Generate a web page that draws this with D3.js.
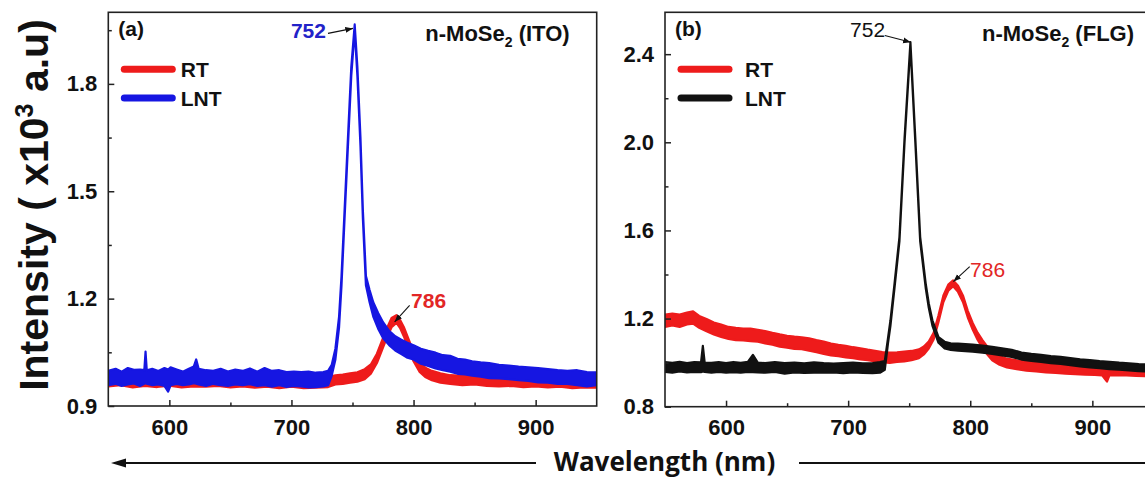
<!DOCTYPE html>
<html>
<head>
<meta charset="utf-8">
<script src="https://cdn.jsdelivr.net/npm/d3@7"></script>
<style>
  body { margin: 0; background: #fff; }
  svg { display: block; font-family: Arial, "Liberation Sans", sans-serif; }
</style>
</head>
<body>
<div id="chart"></div>
<script>
// ---- data: [wavelength nm, band middle, band half-width] (x10^3 a.u) ----
const xTicks = [600, 700, 800, 900];
const xMinor = [650, 750, 850];
const yTicksITO = [0.9, 1.2, 1.5, 1.8];
const yMinorITO = [1.05, 1.35, 1.65, 1.95];
const yTicksFLG = [0.8, 1.2, 1.6, 2.0, 2.4];
const yMinorFLG = [1.0, 1.4, 1.8, 2.2];
const legendNames = ["RT", "LNT"];

const rtITO = [
  [550, 0.970, 0.015], [560, 0.970, 0.012], [570, 0.968, 0.016], [580, 0.968, 0.012],
  [590, 0.968, 0.015], [600, 0.969, 0.012], [610, 0.968, 0.016], [620, 0.968, 0.013],
  [630, 0.968, 0.014], [640, 0.968, 0.012], [650, 0.968, 0.016], [660, 0.967, 0.012],
  [670, 0.967, 0.016], [680, 0.966, 0.012], [690, 0.965, 0.015], [700, 0.966, 0.012],
  [710, 0.965, 0.015], [720, 0.964, 0.013], [730, 0.967, 0.014], [736, 0.973, 0.013],
  [742, 0.975, 0.013], [748, 0.978, 0.013], [754, 0.981, 0.013], [760, 0.989, 0.014],
  [765, 1.003, 0.013], [770, 1.033, 0.013], [774, 1.068, 0.013], [778, 1.103, 0.013],
  [782, 1.133, 0.013], [786, 1.143, 0.011], [789, 1.129, 0.011], [792, 1.108, 0.013],
  [796, 1.073, 0.013], [800, 1.038, 0.013], [805, 1.008, 0.013], [810, 0.993, 0.013],
  [815, 0.985, 0.013], [822, 0.978, 0.013], [830, 0.974, 0.012], [840, 0.971, 0.013],
  [850, 0.971, 0.011], [860, 0.968, 0.012], [870, 0.967, 0.012], [880, 0.968, 0.012],
  [890, 0.965, 0.012], [900, 0.967, 0.012], [910, 0.964, 0.012], [920, 0.966, 0.012],
  [930, 0.963, 0.013], [940, 0.964, 0.012], [950, 0.963, 0.012]
];

const lntITO = [
  [550, 0.978, 0.020], [556, 0.983, 0.021], [561, 0.976, 0.020], [566, 0.983, 0.023],
  [571, 0.982, 0.019], [576, 0.979, 0.023], [579.5, 0.981, 0.019], [580.5, 1.008, 0.044],
  [581.5, 0.981, 0.019], [586, 0.981, 0.023], [591, 0.979, 0.019], [596, 0.981, 0.025],
  [599, 0.971, 0.031], [601, 0.983, 0.025], [606, 0.982, 0.020], [611, 0.977, 0.019],
  [616, 0.982, 0.022], [620, 0.987, 0.023], [622, 0.996, 0.034], [624, 0.982, 0.022],
  [630, 0.978, 0.022], [636, 0.980, 0.018], [642, 0.981, 0.023], [648, 0.976, 0.020],
  [654, 0.981, 0.021], [660, 0.978, 0.020], [666, 0.983, 0.022], [672, 0.976, 0.020],
  [678, 0.982, 0.024], [684, 0.976, 0.022], [690, 0.979, 0.021], [696, 0.974, 0.021],
  [702, 0.976, 0.020], [708, 0.975, 0.020], [714, 0.974, 0.022], [720, 0.973, 0.020],
  [726, 0.975, 0.020], [730, 0.978, 0.020], [733, 1.000, 0.015], [736, 1.045, 0.015],
  [739, 1.135, 0.015], [741, 1.250, 0.013], [743.5, 1.435, 0.012], [746.3, 1.640, 0.012],
  [749, 1.835, 0.012], [751.8, 1.958, 0.008], [754, 1.835, 0.012], [756.5, 1.640, 0.012],
  [758.5, 1.435, 0.012], [761, 1.250, 0.013], [764, 1.207, 0.017], [767, 1.170, 0.020],
  [771, 1.138, 0.022], [775, 1.112, 0.022], [780, 1.090, 0.020], [785, 1.075, 0.020],
  [790, 1.065, 0.020], [795, 1.056, 0.021], [800, 1.050, 0.020], [806, 1.039, 0.021],
  [812, 1.033, 0.021], [818, 1.027, 0.022], [824, 1.021, 0.021], [830, 1.018, 0.022],
  [836, 1.011, 0.021], [842, 1.009, 0.021], [848, 1.005, 0.020], [855, 1.002, 0.020],
  [862, 0.999, 0.021], [870, 0.996, 0.019], [878, 0.994, 0.019], [886, 0.991, 0.019],
  [894, 0.989, 0.019], [902, 0.986, 0.020], [910, 0.984, 0.019], [918, 0.981, 0.019],
  [926, 0.980, 0.018], [934, 0.979, 0.021], [942, 0.975, 0.020], [950, 0.976, 0.018]
];

const rtFLG = [
  [550, 1.190, 0.028], [556, 1.196, 0.027], [562, 1.190, 0.028], [568, 1.200, 0.027],
  [573, 1.205, 0.028], [578, 1.185, 0.027], [584, 1.170, 0.028], [590, 1.155, 0.027],
  [596, 1.145, 0.028], [602, 1.135, 0.027], [608, 1.130, 0.028], [614, 1.128, 0.027],
  [620, 1.126, 0.028], [626, 1.122, 0.027], [632, 1.115, 0.028], [638, 1.108, 0.027],
  [644, 1.100, 0.028], [650, 1.095, 0.027], [656, 1.090, 0.028], [662, 1.088, 0.027],
  [668, 1.082, 0.028], [674, 1.075, 0.027], [680, 1.068, 0.028], [686, 1.060, 0.027],
  [692, 1.055, 0.026], [698, 1.050, 0.026], [704, 1.045, 0.025], [710, 1.040, 0.025],
  [716, 1.035, 0.024], [722, 1.030, 0.024], [728, 1.025, 0.023], [734, 1.022, 0.023],
  [740, 1.025, 0.022], [746, 1.028, 0.022], [752, 1.032, 0.021], [758, 1.040, 0.020],
  [762, 1.055, 0.018], [766, 1.080, 0.016], [770, 1.120, 0.015], [774, 1.200, 0.015],
  [778, 1.290, 0.015], [782, 1.340, 0.014], [786, 1.360, 0.013], [790, 1.335, 0.014],
  [794, 1.290, 0.015], [798, 1.220, 0.015], [802, 1.165, 0.015], [806, 1.120, 0.016],
  [810, 1.085, 0.017], [814, 1.055, 0.018], [818, 1.030, 0.019], [824, 1.010, 0.020],
  [830, 0.998, 0.020], [838, 0.990, 0.020], [846, 0.984, 0.020], [854, 0.980, 0.020],
  [862, 0.976, 0.020], [870, 0.973, 0.020], [878, 0.970, 0.020], [886, 0.968, 0.020],
  [894, 0.966, 0.020], [902, 0.964, 0.020], [908, 0.962, 0.020], [912, 0.948, 0.034],
  [914, 0.962, 0.020], [920, 0.963, 0.020], [928, 0.962, 0.020], [936, 0.960, 0.020],
  [944, 0.958, 0.020], [950, 0.957, 0.020]
];

const lntFLG = [
  [550, 0.980, 0.022], [556, 0.977, 0.022], [562, 0.982, 0.022], [568, 0.977, 0.021],
  [574, 0.980, 0.022], [579.5, 0.979, 0.022], [581, 1.018, 0.058], [582.5, 0.979, 0.021],
  [588, 0.977, 0.022], [594, 0.980, 0.022], [600, 0.976, 0.022], [606, 0.980, 0.023],
  [612, 0.977, 0.022], [618, 0.981, 0.023], [622, 0.996, 0.039], [626, 0.978, 0.022],
  [632, 0.976, 0.022], [640, 0.980, 0.022], [648, 0.974, 0.024], [656, 0.978, 0.022],
  [664, 0.975, 0.022], [672, 0.978, 0.023], [680, 0.976, 0.022], [688, 0.976, 0.020],
  [696, 0.975, 0.023], [704, 0.978, 0.022], [712, 0.975, 0.022], [720, 0.975, 0.023],
  [726, 0.978, 0.024], [730, 0.987, 0.020], [732.6, 1.098, 0.012], [734.6, 1.178, 0.012],
  [738, 1.350, 0.010], [742, 1.560, 0.010], [746.2, 2.010, 0.010], [751, 2.447, 0.008],
  [755, 2.010, 0.010], [759, 1.560, 0.010], [763.5, 1.350, 0.010], [766, 1.260, 0.010],
  [769, 1.180, 0.012], [774, 1.103, 0.013], [779, 1.080, 0.015], [784, 1.073, 0.015],
  [790, 1.070, 0.016], [796, 1.068, 0.016], [802, 1.066, 0.016], [810, 1.061, 0.016],
  [818, 1.056, 0.016], [826, 1.049, 0.016], [834, 1.042, 0.016], [842, 1.030, 0.016],
  [850, 1.024, 0.016], [858, 1.019, 0.016], [866, 1.014, 0.016], [874, 1.010, 0.016],
  [882, 1.005, 0.016], [890, 0.999, 0.016], [898, 0.995, 0.017], [906, 0.991, 0.016],
  [914, 0.987, 0.017], [922, 0.984, 0.016], [930, 0.981, 0.016], [938, 0.977, 0.016],
  [946, 0.975, 0.016], [950, 0.974, 0.016]
];

// peak annotations: [wavelength, value, label]
const peaksITO = [[750.4, 1.955, "752"], [784.5, 1.135, "786"]];
const peaksFLG = [[751.3, 2.454, "752"], [786.2, 1.368, "786"]];

// ---- layout ----
const width = 1145, height = 477;
const red = "#ee1b1b", blue = "#1616e2", black = "#111";
const fontMain = 'Arial, "Liberation Sans", sans-serif';

const svg = d3.select("#chart").append("svg")
  .attr("width", width)
  .attr("height", height)
  .attr("viewBox", [0, 0, width, height]);

const defs = svg.append("defs");
defs.append("marker")
  .attr("id", "head")
  .attr("viewBox", "0 0 10 10")
  .attr("refX", 10).attr("refY", 5)
  .attr("markerWidth", 7).attr("markerHeight", 7)
  .attr("orient", "auto")
  .append("path")
  .attr("d", "M0,1.2L10,5L0,8.8Z")
  .attr("fill", black);

const panels = [
  {
    key: "ITO", left: 108.3, right: 596.7, top: 12.3, bottom: 406,
    yDomain: [0.9, 2.0], yTicks: yTicksITO, yMinor: yMinorITO,
    rt: rtITO, lnt: lntITO, lntColor: blue, tag: "(a)", legendTextX: 72.5,
    peaks: peaksITO,
    notes: [
      { color: "#2222c8", weight: "bold", tail: [-25, 5], label: [-27, 10], anchor: "end" },
      { color: "#e22626", weight: "bold", tail: [15, -16.5], label: [16.5, -13.4], anchor: "start" }
    ]
  },
  {
    key: "FLG", left: 665, right: 1153.4, top: 12.3, bottom: 406.7,
    yDomain: [0.8, 2.59], yTicks: yTicksFLG, yMinor: yMinorFLG,
    rt: rtFLG, lnt: lntFLG, lntColor: black, tag: "(b)", legendTextX: 80,
    peaks: peaksFLG,
    notes: [
      { color: black, weight: "normal", tail: [-26, -6.7], label: [-25.7, -5.7], anchor: "end" },
      { color: "#e22626", weight: "normal", tail: [16.3, -15], label: [16.7, -5], anchor: "start" }
    ]
  }
];

const drawPanel = (p) => {
  const x = d3.scaleLinear().domain([550, 950]).range([p.left, p.right]);
  const y = d3.scaleLinear().domain(p.yDomain).range([p.bottom, p.top]);
  const g = svg.append("g").attr("class", `panel panel-${p.key}`);

  defs.append("clipPath").attr("id", `clip-${p.key}`)
    .append("rect")
    .attr("x", p.left).attr("y", p.top)
    .attr("width", p.right - p.left).attr("height", p.bottom - p.top);

  // noisy spectra drawn as a band between the lower and upper envelope
  const band = d3.area()
    .x(d => x(d[0]))
    .y0(d => y(d[1] - d[2]))
    .y1(d => y(d[1] + d[2]));

  const plot = g.append("g").attr("clip-path", `url(#clip-${p.key})`);
  [[p.rt, red], [p.lnt, p.lntColor]].forEach(([data, color]) => {
    plot.append("path")
      .datum(data)
      .attr("d", band)
      .attr("fill", color)
      .attr("stroke", color)
      .attr("stroke-width", 2.2)
      .attr("stroke-linejoin", "round");
  });

  // axes, ticks pointing inward
  const xAxis = d3.axisBottom(x).tickValues(xTicks).tickSizeInner(-6).tickSizeOuter(0).tickPadding(13);
  const xMinorAxis = d3.axisBottom(x).tickValues(xMinor).tickSizeInner(-3.5).tickSizeOuter(0).tickFormat("");
  const yAxis = d3.axisLeft(y).tickValues(p.yTicks).tickSizeInner(-6).tickSizeOuter(0).tickPadding(11)
    .tickFormat(d3.format(".1f"));
  const yMinorAxis = d3.axisLeft(y).tickValues(p.yMinor).tickSizeInner(-3.5).tickSizeOuter(0).tickFormat("");

  [xAxis, xMinorAxis].forEach(ax => {
    g.append("g").attr("transform", `translate(0,${p.bottom})`).call(ax);
  });
  [yAxis, yMinorAxis].forEach(ax => {
    g.append("g").attr("transform", `translate(${p.left},0)`).call(ax);
  });
  g.selectAll(".domain").remove();
  g.selectAll(".tick line").attr("stroke", "#222").attr("stroke-width", 1.5);
  g.selectAll(".tick text")
    .attr("fill", "#111")
    .style("font-family", fontMain)
    .style("font-size", "22px")
    .style("font-weight", "bold");

  g.append("rect")
    .attr("x", p.left).attr("y", p.top)
    .attr("width", p.right - p.left).attr("height", p.bottom - p.top)
    .attr("fill", "none")
    .attr("stroke", "#222")
    .attr("stroke-width", 1.6);

  // tag and sample label
  g.append("text")
    .attr("x", p.left + 10).attr("y", 36)
    .style("font-size", "21px").style("font-weight", "bold")
    .attr("fill", "#111")
    .text(p.tag);

  const sample = g.append("text")
    .attr("x", p.left + 317).attr("y", 40.5)
    .style("font-size", "22px").style("font-weight", "bold")
    .attr("fill", "#111");
  sample.append("tspan").text("n-MoSe");
  sample.append("tspan").attr("dy", 6).style("font-size", "14px").text("2");
  sample.append("tspan").attr("dy", -6).text(` (${p.key})`);

  // legend
  const legendY = [69.3, 98];
  [red, p.lntColor].forEach((color, i) => {
    g.append("line")
      .attr("x1", p.left + 16).attr("x2", p.left + 64)
      .attr("y1", legendY[i]).attr("y2", legendY[i])
      .attr("stroke", color)
      .attr("stroke-width", 7)
      .attr("stroke-linecap", "round");
    g.append("text")
      .attr("x", p.left + p.legendTextX).attr("y", legendY[i] + 7.6)
      .style("font-size", "21px").style("font-weight", "bold")
      .attr("fill", "#111")
      .text(legendNames[i]);
  });

  // peak annotations
  p.peaks.forEach(([wl, val, label], i) => {
    const n = p.notes[i];
    const tx = x(wl), ty = y(val);
    g.append("line")
      .attr("x1", tx + n.tail[0]).attr("y1", ty + n.tail[1])
      .attr("x2", tx).attr("y2", ty)
      .attr("stroke", black)
      .attr("stroke-width", 1.1)
      .attr("marker-end", "url(#head)");
    g.append("text")
      .attr("x", tx + n.label[0]).attr("y", ty + n.label[1])
      .attr("text-anchor", n.anchor)
      .attr("fill", n.color)
      .style("font-size", "21px")
      .style("font-weight", n.weight)
      .text(label);
  });
};

panels.forEach(drawPanel);

// shared y title
const yTitle = svg.append("text")
  .attr("transform", "translate(48,205) rotate(-90)")
  .attr("text-anchor", "middle")
  .attr("fill", "#111")
  .style("font-size", "41px")
  .style("font-weight", "bold");
yTitle.append("tspan").text("Intensity ( x10");
yTitle.append("tspan").attr("dy", -15).style("font-size", "25px").text("3");
yTitle.append("tspan").attr("dy", 15).text(" a.u)");

// shared x title with arrow
const arrowY = 463;
svg.append("line")
  .attr("x1", 536).attr("x2", 122)
  .attr("y1", arrowY).attr("y2", arrowY)
  .attr("stroke", "#111").attr("stroke-width", 2);
svg.append("path")
  .attr("d", d3.line()([[111, arrowY], [126, arrowY - 4.5], [126, arrowY + 4.5]]) + "Z")
  .attr("fill", "#111");
svg.append("line")
  .attr("x1", 799).attr("x2", width)
  .attr("y1", arrowY).attr("y2", arrowY)
  .attr("stroke", "#111").attr("stroke-width", 2);
svg.append("text")
  .attr("x", 664.5).attr("y", 470.5)
  .attr("text-anchor", "middle")
  .attr("fill", "#111")
  .style("font-family", '"Open Sans", sans-serif')
  .style("font-size", "26px")
  .style("font-weight", "bold")
  .text("Wavelength (nm)");
</script>
</body>
</html>
